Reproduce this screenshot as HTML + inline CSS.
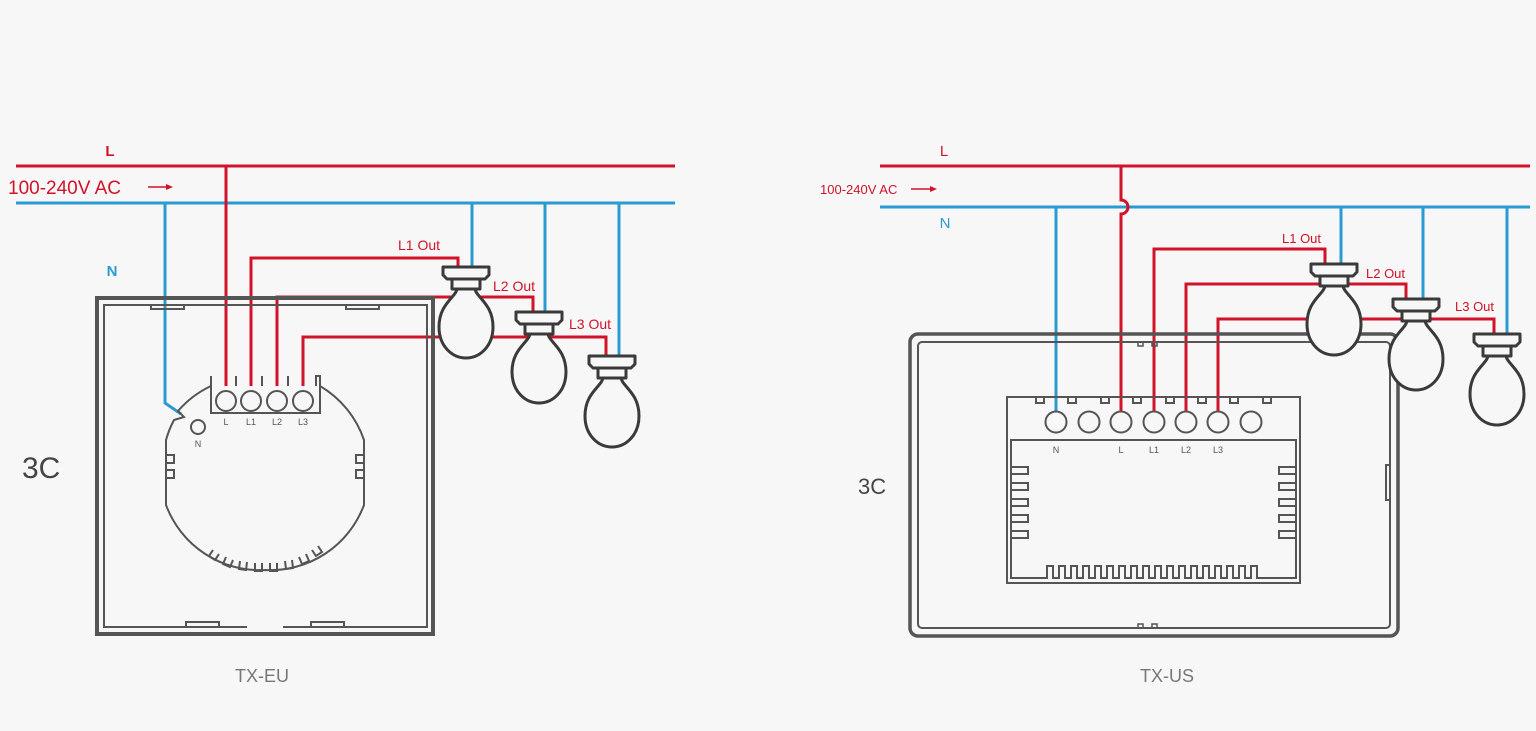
<!DOCTYPE html>
<html><head><meta charset="utf-8"><style>
html,body{margin:0;padding:0;background:#f7f7f7;}
svg{display:block;font-family:"Liberation Sans",sans-serif;}
</style></head><body>
<svg width="1536" height="731" viewBox="0 0 1536 731" xmlns="http://www.w3.org/2000/svg">
<defs>
<g id="bulb" stroke="#3a3a3a" stroke-width="3" fill="#f7f7f7" stroke-linejoin="round">
<path d="M -9,21 C -9,30 -27,36 -27,60 C -27,79 -14,91 0,91 C 14,91 27,79 27,60 C 27,36 9,30 9,21 Z"/>
<rect x="-14" y="12" width="28" height="10"/>
<path d="M -23,0 L 23,0 L 23,8 L 19,12 L -19,12 L -23,8 Z"/>
</g>
</defs>
<rect width="1536" height="731" fill="#f7f7f7"/>

<!-- LEFT DIAGRAM -->
<g fill="none" stroke-width="3">
<line x1="16" y1="203" x2="675" y2="203" stroke="#2a9bd1"/>
<polyline points="165,203 165,403 181,414" stroke="#2a9bd1"/>
<line x1="472" y1="203" x2="472" y2="267" stroke="#2a9bd1"/>
<line x1="545" y1="203" x2="545" y2="312" stroke="#2a9bd1"/>
<line x1="619" y1="203" x2="619" y2="356" stroke="#2a9bd1"/>
<line x1="16" y1="166" x2="675" y2="166" stroke="#d0132a"/>
<line x1="226" y1="166" x2="226" y2="386" stroke="#d0132a"/>
<polyline points="251,386 251,258 458,258 458,267" stroke="#d0132a"/>
<polyline points="277,386 277,297 533,297 533,312" stroke="#d0132a"/>
<polyline points="303,386 303,337 606,337 606,356" stroke="#d0132a"/>
</g>
<text x="110" y="156" fill="#d0132a" font-size="15" font-weight="bold" text-anchor="middle">L</text>
<text x="8" y="194" fill="#d0132a" font-size="19">100-240V AC</text>
<line x1="148" y1="187" x2="170" y2="187" stroke="#d0132a" stroke-width="1.5"/>
<path d="M166,184 L173,187 L166,190Z" fill="#d0132a"/>
<text x="112" y="276" fill="#2a9bd1" font-size="15" font-weight="bold" text-anchor="middle">N</text>
<text x="398" y="250" fill="#d0132a" font-size="14">L1 Out</text>
<text x="493" y="291" fill="#d0132a" font-size="14">L2 Out</text>
<text x="569" y="329" fill="#d0132a" font-size="14">L3 Out</text>

<g fill="none" stroke="#555" stroke-width="4">
<rect x="97" y="298" width="336" height="336"/>
</g>
<g fill="none" stroke="#555" stroke-width="2">
<path d="M247,627 L104,627 L104,305 L427,305 L427,627 L283,627"/>
<rect x="151" y="305" width="33" height="4"/>
<rect x="346" y="305" width="33" height="4"/>
<rect x="186" y="622" width="33" height="5"/>
<rect x="311" y="622" width="33" height="5"/>
<path d="M211,376 L211,413 L320,413 L320,376 L316,376 L316,386"/>
<path d="M211,386 A100,100 0 0 0 178,411 L184,417 L174,420 A100,100 0 0 0 166,440 L166,505 A100,100 0 0 0 265,570 A100,100 0 0 0 364,505 L364,440 A100,100 0 0 0 320,386"/>
<path d="M166,455 h8 v8 h-8 M166,470 h8 v8 h-8 M364,455 h-8 v8 h8 M364,470 h-8 v8 h8"/>
<path d="M236,376 v10 M262,376 v10 M288,376 v10" />
<path d="M213,550 l-4,6 l6,4 l4,-6 M226,557 l-3,7 l7,3 l3,-7 M240,561 l-1,8 l7,1 l1,-8 M255,563 v8 h7 v-8 M270,563 v8 h7 v-8 M285,561 l1,8 l7,-1 l-1,-8 M299,557 l3,7 l7,-3 l-3,-7 M312,550 l4,6 l6,-4 l-4,-6"/>
<circle cx="226" cy="401" r="10"/><circle cx="251" cy="401" r="10"/>
<circle cx="277" cy="401" r="10"/><circle cx="303" cy="401" r="10"/>
<circle cx="198" cy="427" r="7"/>
</g>
<g fill="#555" font-size="9" text-anchor="middle">
<text x="226" y="425">L</text><text x="251" y="425">L1</text><text x="277" y="425">L2</text><text x="303" y="425">L3</text>
<text x="198" y="447">N</text>
</g>
<use href="#bulb" x="466" y="267"/>
<use href="#bulb" x="539" y="312"/>
<use href="#bulb" x="612" y="356"/>
<text x="22" y="478" fill="#444" font-size="30">3C</text>
<text x="262" y="682" fill="#777" font-size="18" text-anchor="middle">TX-EU</text>

<!-- RIGHT DIAGRAM -->
<g fill="none" stroke-width="3">
<line x1="880" y1="207" x2="1530" y2="207" stroke="#2a9bd1"/>
<line x1="1056" y1="207" x2="1056" y2="411" stroke="#2a9bd1"/>
<line x1="1341" y1="207" x2="1341" y2="263" stroke="#2a9bd1"/>
<line x1="1423" y1="207" x2="1423" y2="298" stroke="#2a9bd1"/>
<line x1="1507" y1="207" x2="1507" y2="333" stroke="#2a9bd1"/>
<line x1="880" y1="166" x2="1530" y2="166" stroke="#d0132a"/>
<path d="M1121,166 L1121,200 A7,7 0 0 1 1121,214 L1121,411" stroke="#d0132a"/>
<polyline points="1154,411 1154,249 1325,249 1325,263" stroke="#d0132a"/>
<polyline points="1186,411 1186,284 1406,284 1406,298" stroke="#d0132a"/>
<polyline points="1218,411 1218,319 1494,319 1494,333" stroke="#d0132a"/>
</g>
<text x="944" y="156" fill="#d0132a" font-size="15" text-anchor="middle">L</text>
<text x="820" y="194" fill="#d0132a" font-size="13">100-240V AC</text>
<line x1="911" y1="189" x2="932" y2="189" stroke="#d0132a" stroke-width="1.5"/>
<path d="M930,186 L937,189 L930,192Z" fill="#d0132a"/>
<text x="945" y="228" fill="#2a9bd1" font-size="15" text-anchor="middle">N</text>
<text x="1282" y="243" fill="#d0132a" font-size="13">L1 Out</text>
<text x="1366" y="278" fill="#d0132a" font-size="13">L2 Out</text>
<text x="1455" y="311" fill="#d0132a" font-size="13">L3 Out</text>

<g fill="none" stroke="#555">
<rect x="910" y="334" width="488" height="302" rx="8" stroke-width="3.5"/>
<rect x="918" y="342" width="472" height="286" rx="4" stroke-width="2"/>
<path d="M1390,465 h-4 v35 h4 M918,365 v30 M918,555 v30 M1390,365 v30 M1390,555 v30" stroke-width="2"/>
<path d="M1138,342 v4 h5 v-4 M1152,342 v4 h5 v-4 M1138,628 v-4 h5 v4 M1152,628 v-4 h5 v4" stroke-width="1.5"/>
<rect x="1007" y="397" width="293" height="186" stroke-width="2"/>
<path d="M1068,397 v6 h8 v-6 M1101,397 v6 h8 v-6 M1133,397 v6 h8 v-6 M1166,397 v6 h8 v-6 M1198,397 v6 h8 v-6 M1230,397 v6 h8 v-6 M1036,397 v6 h8 v-6 M1263,397 v6 h8 v-6" stroke-width="2"/>
<path d="M1011,578 V440 H1296 V578 H1257 V566 h-6 V578 h-6 V566 h-6 V578 h-6 V566 h-6 V578 h-6 V566 h-6 V578 h-6 V566 h-6 V578 h-6 V566 h-6 V578 h-6 V566 h-6 V578 h-6 V566 h-6 V578 h-6 V566 h-6 V578 h-6 V566 h-6 V578 h-6 V566 h-6 V578 h-6 V566 h-6 V578 h-6 V566 h-6 V578 h-6 V566 h-6 V578 h-6 V566 h-6 V578 h-6 V566 h-6 V578 h-6 V566 h-6 V578 h-6 V566 h-6 V578 h-6 Z" stroke-width="2"/>
<path d="M1011,467 h17 v7 h-17 m0,9 h17 v7 h-17 m0,9 h17 v7 h-17 m0,9 h17 v7 h-17 m0,9 h17 v7 h-17" stroke-width="2"/>
<path d="M1296,467 h-17 v7 h17 m0,9 h-17 v7 h17 m0,9 h-17 v7 h17 m0,9 h-17 v7 h17 m0,9 h-17 v7 h17" stroke-width="2"/>
<g stroke-width="2">
<circle cx="1056" cy="422" r="10.5"/><circle cx="1089" cy="422" r="10.5"/><circle cx="1121" cy="422" r="10.5"/>
<circle cx="1154" cy="422" r="10.5"/><circle cx="1186" cy="422" r="10.5"/><circle cx="1218" cy="422" r="10.5"/><circle cx="1251" cy="422" r="10.5"/>
</g>
</g>
<g fill="#555" font-size="9" text-anchor="middle">
<text x="1056" y="453">N</text><text x="1121" y="453">L</text><text x="1154" y="453">L1</text><text x="1186" y="453">L2</text><text x="1218" y="453">L3</text>
</g>
<use href="#bulb" x="1334" y="264"/>
<use href="#bulb" x="1416" y="299"/>
<use href="#bulb" x="1497" y="334"/>
<text x="858" y="494" fill="#444" font-size="22">3C</text>
<text x="1167" y="682" fill="#777" font-size="18" text-anchor="middle">TX-US</text>
</svg>
</body></html>
